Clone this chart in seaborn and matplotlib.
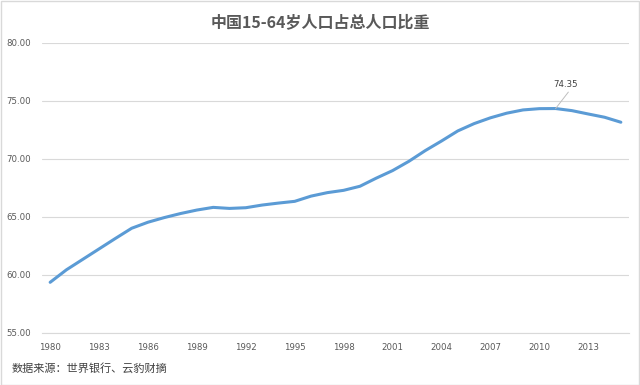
import matplotlib
matplotlib.use("Agg")
import matplotlib.pyplot as plt
from matplotlib import font_manager
from matplotlib.patches import Rectangle
import seaborn as sns
import pandas as pd
import numpy as np

years = list(range(1980, 2016))
share = [59.37, 60.45, 61.35, 62.25, 63.15, 64.03, 64.55, 64.95, 65.30, 65.60,
         65.83, 65.74, 65.80, 66.03, 66.20, 66.35, 66.80, 67.10, 67.30, 67.65,
         68.35, 69.00, 69.80, 70.72, 71.55, 72.42, 73.05, 73.55, 73.95, 74.23,
         74.34, 74.35, 74.17, 73.88, 73.60, 73.17]
yticks = [55, 60, 65, 70, 75, 80]
title = "中国15-64岁人口占总人口比重"
source = "数据来源：世界银行、云豹财摘"
peak_label = "74.35"

sns.set_theme(style="white")
names = {f.name for f in font_manager.fontManager.ttflist}
tick_font = "Liberation Sans Narrow" if "Liberation Sans Narrow" in names else "DejaVu Sans"
tick_size = 8 if tick_font == "Liberation Sans Narrow" else 6.2
plt.rcParams['font.family'] = ['Noto Sans CJK SC', 'DejaVu Sans']

df = pd.DataFrame({"idx": np.arange(len(years)), "share": share})

fig = plt.figure(figsize=(6.4, 3.85), dpi=100)
fig.patches.append(Rectangle((0.001, 0.001), 0.998, 0.997, transform=fig.transFigure,
                             fill=False, edgecolor="#d9d9d9", linewidth=1))
ax = fig.add_axes([42/640, 1-333/385, (629-42)/640, (333-43)/385])

sns.lineplot(data=df, x="idx", y="share", ax=ax, color="#5b9bd5", linewidth=2.2)

ax.set_xlim(-0.5, len(years) - 0.5)
ax.set_ylim(55, 80)
ax.set_yticks(yticks)
ax.set_yticklabels([f"{v:.2f}" for v in yticks], fontfamily=tick_font,
                   fontsize=tick_size, color="#595959")
xt = np.arange(0, len(years), 3)
ax.set_xticks(xt)
ax.set_xticklabels([str(years[i]) for i in xt], fontfamily=tick_font,
                   fontsize=tick_size, color="#595959")
ax.set_xticks(np.arange(-0.5, len(years), 3), minor=True)
ax.tick_params(axis="x", which="major", length=0, pad=7)
ax.tick_params(axis="x", which="minor", length=4, color="#d9d9d9", width=0.8, direction="out")
ax.tick_params(axis="y", length=0, pad=8)
ax.set_xlabel("")
ax.set_ylabel("")
ax.grid(axis="y", color="#d9d9d9", linewidth=0.8)
ax.set_axisbelow(True)
for s in ["top", "right", "left"]:
    ax.spines[s].set_visible(False)
ax.spines["bottom"].set_color("#d9d9d9")
ax.spines["bottom"].set_linewidth(0.8)

pk = int(np.argmax(share))
ax.annotate(peak_label, xy=(pk, share[pk]), xytext=(pk + 0.6, share[pk] + 1.7),
            fontfamily=tick_font, fontsize=tick_size, color="#404040", ha="center", va="bottom",
            arrowprops=dict(arrowstyle="-", color="#bfbfbf", linewidth=0.7, shrinkA=0, shrinkB=0,
                            relpos=(0.75, 0.1)))

fig.text(0.5, 1 - 22/385, title, ha="center", va="center", fontsize=11.5,
         fontweight="bold", color="#595959")
fig.text(12/640, 1 - 368/385, source, ha="left", va="center", fontsize=8, color="#404040")

fig.savefig("out.png", dpi=100)
